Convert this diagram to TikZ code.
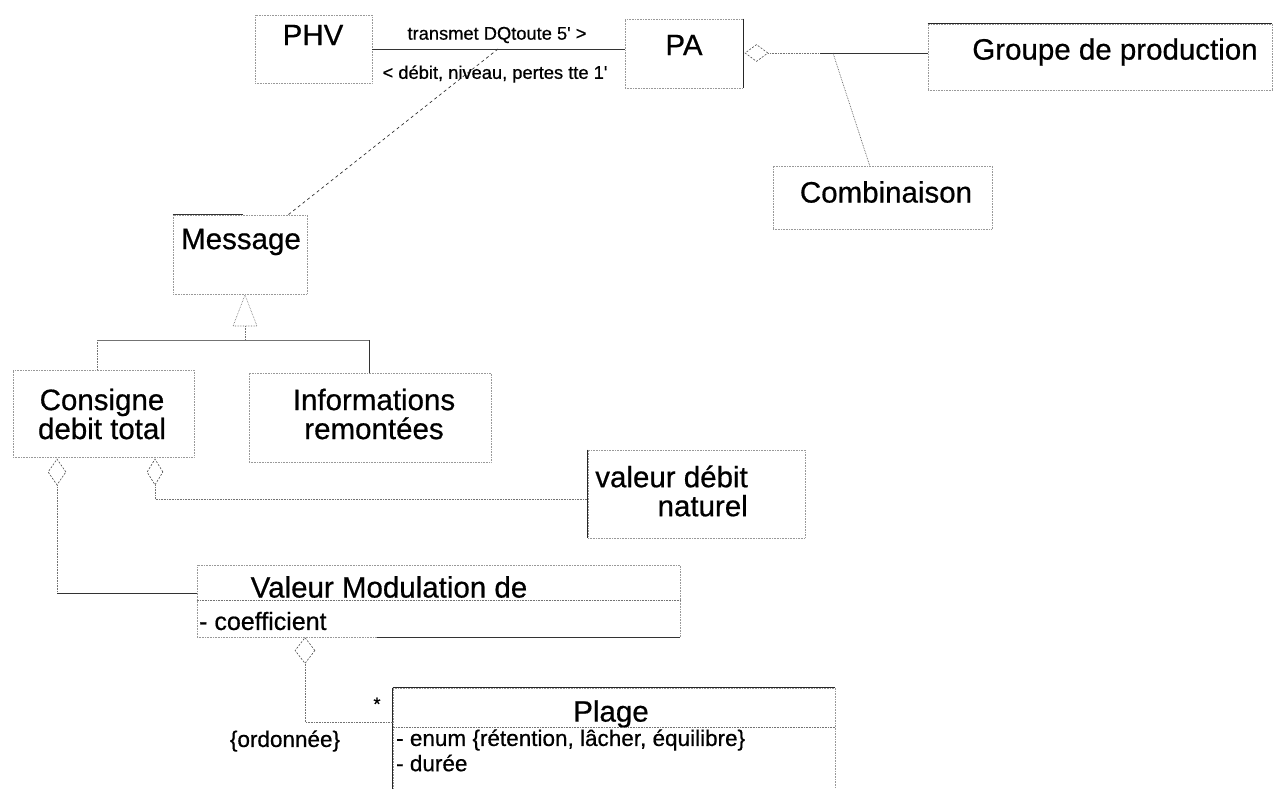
\documentclass[tikz,border=0pt]{standalone}
\usepackage{fontspec}
\setmainfont{Liberation Sans}[FakeBold=0.6]
\usetikzlibrary{shapes.geometric,calc}
\begin{document}
\begin{tikzpicture}[x=1pt,y=-1pt,
  box/.style={draw=black!40, densely dotted, line width=0.6pt, rectangle, inner sep=0pt},
  edge/.style={draw=black!85, line width=0.8pt},
  big/.style={font=\fontsize{29.5}{29}\selectfont, inner sep=0pt, align=center},
  assoc/.style={font=\fontsize{18.3}{20}\selectfont, inner sep=0pt},
  attr/.style={font=\fontsize{22.5}{24}\selectfont, inner sep=0pt, anchor=west},
  agg/.style={draw=black!70, diamond, inner sep=0pt, line width=0.6pt, dash pattern=on 2pt off 1.5pt},
  dotline/.style={draw=black!55, line width=0.6pt, densely dotted},
  solidline/.style={draw=black!80, line width=0.7pt}]
\useasboundingbox[fill=white] (0,0) rectangle (1274,789);

% ---------- boxes ----------
\node[box, minimum width=117pt, minimum height=68pt] (phv) at (313.5,49) {};
\node[big] (phvT) at (313,35) {PHV};
\node[box, minimum width=118pt, minimum height=69pt] (pa) at (684,53.5) {};
\node[big] (paT) at (684,45) {PA};
\node[box, minimum width=344pt, minimum height=66pt] (grp) at (1100,57) {};
\node[big] (grpT) at (1115,52) {Groupe de production};
\node[box, minimum width=219pt, minimum height=63pt] (comb) at (882.5,197.5) {};
\node[big] (combT) at (886,192) {Combinaison};
\node[box, minimum width=134pt, minimum height=79pt] (msg) at (240,254.5) {};
\node[big] (msgT) at (241,242) {Message};
\node[box, minimum width=181pt, minimum height=87pt] (cons) at (103.5,413.5) {};
\node[big] (consT) at (102,414) {Consigne\\debit total};
\node[box, minimum width=242pt, minimum height=89pt] (info) at (370,417.5) {};
\node[big] (infoT) at (374,414) {Informations\\remontées};
\node[box, minimum width=217pt, minimum height=88pt] (val) at (696.5,494) {};
\node[big, align=right, anchor=east] (valT) at (748,491) {valeur débit\\naturel};
\node[box, minimum width=483pt, minimum height=72pt] (vmod) at (438.5,601) {};
\node[big] (vmodT) at (389,587) {Valeur Modulation de};
\node[attr, font=\fontsize{25}{26}\selectfont] (vmodA) at (199,621) {- coefficient};
\node[box, minimum width=442pt, minimum height=112pt] (plage) at (614,744) {};
\node[big] (plageT) at (611,714) {Plage};
\node[attr] (plageA) at (396,740) {- enum \{rétention, lâcher, équilibre\}};
\node[attr] (plageB) at (396,763) {- durée};

% compartment dividers
\draw[dotline] (vmod.west |- 0,600) -- (vmod.east |- 0,600);
\draw[dotline] (plage.west |- 0,727) -- (plage.east |- 0,727);

% darker scanned edges
\draw[edge] (pa.north east) -- (pa.south east);
\draw[edge] (grp.north west) -- (grp.north east);
\draw[edge] (val.north west) -- (val.south west);
\draw[edge] (plage.north west) -- (plage.north east);
\draw[edge] (plage.north west) -- (plage.south west);
\draw[solidline] (msg.north west) -- ($(msg.north west)+(70,0)$);
\draw[solidline] ($(vmod.south west)+(180,0)$) -- (vmod.south east);

% ---------- PHV - PA association ----------
\draw[solidline] (phv.east |- 0,49) -- (pa.west |- 0,49);
\node[assoc] (lab1) at (497,35) {transmet DQtoute 5\textquotesingle{} >};
\node[assoc] (lab2) at (495,74) {< débit, niveau, pertes tte 1\textquotesingle};
\coordinate (asc) at (498,49);
\draw[black!80, line width=0.7pt, dashed] (asc) -- ($(msg.north east)+(-19,0)$);

% ---------- PA aggregation ----------
\node[agg, minimum width=23pt, minimum height=17pt] (dpa) at (756.5,53) {};
\draw[dotline] (dpa.east) -- (820,53);
\draw[solidline] (820,53) -- (dpa.east -| grp.west);
\coordinate (br) at (833,53);
\draw[black!65, line width=0.7pt, densely dotted] (br) -- ($(comb.north west)+(97,0)$);

% ---------- generalization ----------
\coordinate (apex) at (245,295);
\draw[black!60, line width=0.6pt, densely dotted] (apex) -- (257,326) -- (233,326) -- cycle;
\draw[dotline] (245,326) -- (245,340);
\draw[black!55, line width=0.6pt] (97,340) -- (369,340);
\draw[dotline] (97,340) -- (97,0 |- cons.north);
\draw[solidline] (369,340) -- (369,0 |- info.north);

% ---------- Consigne aggregations ----------
\node[agg, minimum width=18pt, minimum height=26pt] (d1) at (57,472) {};
\node[agg, minimum width=16pt, minimum height=26pt] (d2) at (155,472) {};
\draw[dotline] (d1.south) -- (57,593);
\draw[solidline] (57,593) -- (vmod.west |- 0,593);
\draw[dotline] (d2.south) |- ($(val.west)+(0,5)$);

% ---------- Valeur Modulation - Plage ----------
\node[agg, minimum width=20pt, minimum height=26pt] (d3) at (305,650.5) {};
\draw[dotline] (d3.south) |- (plage.west |- 0,722);
\node[assoc] (star) at (377,704) {*};
\node[font=\fontsize{22.5}{24}\selectfont, inner sep=0pt] (ord) at (285,741) {\{ordonnée\}};
\end{tikzpicture}
\end{document}
